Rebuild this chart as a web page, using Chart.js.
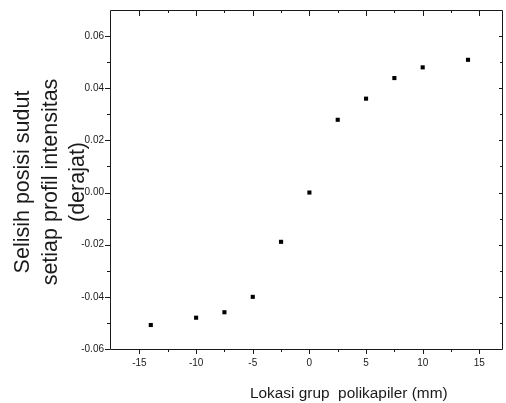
<!DOCTYPE html>
<html>
<head>
<meta charset="utf-8">
<script src="https://cdn.jsdelivr.net/npm/chart.js@4.4.0/dist/chart.umd.min.js"></script>
<style>
  html, body { margin: 0; padding: 0; background: #fff; }
  #wrap { width: 506px; height: 403px; }
</style>
</head>
<body>
<div id="wrap"><canvas id="chart" width="506" height="403"></canvas></div>
<script>
// ===============================
// Data
// ===============================
const xValues = [-14, -10, -7.5, -5, -2.5, 0, 2.5, 5, 7.5, 10, 14];
const yValues = [-0.0508, -0.0480, -0.0459, -0.0400, -0.0189, 0.0000, 0.0279, 0.0360, 0.0439, 0.0480, 0.0509];

const xTicks = [-15, -10, -5, 0, 5, 10, 15];
const xMinorTicks = [-12.5, -7.5, -2.5, 2.5, 7.5, 12.5];
const yTicks = [-0.06, -0.04, -0.02, 0.00, 0.02, 0.04, 0.06];
const yMinorTicks = [-0.05, -0.03, -0.01, 0.01, 0.03, 0.05];

const yTitleLines = ["Selisih posisi sudut", "setiap profil intensitas", "(derajat)"];
const xTitle = "Lokasi grup  polikapiler (mm)";

const FONT = "'Liberation Sans', Arial, sans-serif";
const INK = "#1a1a1a";

// ===============================
// Frame, tick marks and titles
// ===============================
const framePlugin = {
  id: "frame",
  afterDraw(chart) {
    const { ctx, chartArea: a, scales } = chart;
    const x = scales.x, y = scales.y;
    ctx.save();
    ctx.strokeStyle = INK;
    ctx.lineWidth = 1;

    ctx.beginPath();
    ctx.rect(a.left + 0.5, a.top + 0.5, a.right - a.left, a.bottom - a.top);

    const hTick = (v, len, down) => {
      const px = Math.round(x.getPixelForValue(v)) + 0.5;
      ctx.moveTo(px, a.bottom);
      ctx.lineTo(px, a.bottom + len);
      ctx.moveTo(px, a.top);
      ctx.lineTo(px, a.top + down);
    };
    xTicks.forEach(v => hTick(v, 5, 6));
    xMinorTicks.forEach(v => hTick(v, 3, 3));

    const vTick = (v, len, inner) => {
      const py = Math.round(y.getPixelForValue(v)) + 0.5;
      ctx.moveTo(a.left, py);
      ctx.lineTo(a.left - len, py);
      ctx.moveTo(a.right, py);
      ctx.lineTo(a.right - inner, py);
    };
    yTicks.forEach(v => vTick(v, 5, 3));
    yMinorTicks.forEach(v => vTick(v, 3, 2));
    ctx.stroke();

    // axis titles
    ctx.fillStyle = INK;
    ctx.font = "15.4px " + FONT;
    ctx.textAlign = "left";
    ctx.textBaseline = "alphabetic";
    ctx.fillText(xTitle, 250, 398);

    ctx.translate(0, 182);
    ctx.rotate(-Math.PI / 2);
    ctx.font = "21.5px " + FONT;
    ctx.textAlign = "center";
    ctx.textBaseline = "middle";
    const lineX = [23, 51, 78];
    yTitleLines.forEach((t, i) => ctx.fillText(t, 0, lineX[i]));
    ctx.restore();
  }
};

new Chart(document.getElementById("chart"), {
  type: "scatter",
  data: {
    datasets: [{
      data: xValues.map((v, i) => ({ x: v, y: yValues[i] })),
      pointStyle: "rect",
      pointRadius: 2.9,
      borderWidth: 0,
      backgroundColor: "#000"
    }]
  },
  options: {
    responsive: false,
    animation: false,
    layout: { padding: { top: 10, right: 1, left: 0, bottom: 0 } },
    plugins: {
      legend: { display: false },
      tooltip: { enabled: false }
    },
    scales: {
      x: {
        type: "linear",
        min: -17.6,
        max: 17,
        afterBuildTicks: s => { s.ticks = xTicks.map(v => ({ value: v })); },
        afterFit: s => { s.height = 54; s.paddingLeft = 0; s.paddingRight = 0; },
        grid: { display: false, drawTicks: false },
        border: { display: false },
        ticks: {
          padding: 8,
          color: INK,
          font: { family: FONT, size: 10 },
          maxRotation: 0,
          callback: v => String(v)
        }
      },
      y: {
        type: "linear",
        min: -0.06,
        max: 0.07,
        afterBuildTicks: s => { s.ticks = yTicks.map(v => ({ value: v })); },
        afterFit: s => { s.width = 110; s.paddingTop = 0; s.paddingBottom = 0; },
        grid: { display: false, drawTicks: false },
        border: { display: false },
        ticks: {
          padding: 6,
          color: INK,
          font: { family: FONT, size: 10 },
          callback: v => Number(v).toFixed(2)
        }
      }
    }
  },
  plugins: [framePlugin]
});
</script>
</body>
</html>
